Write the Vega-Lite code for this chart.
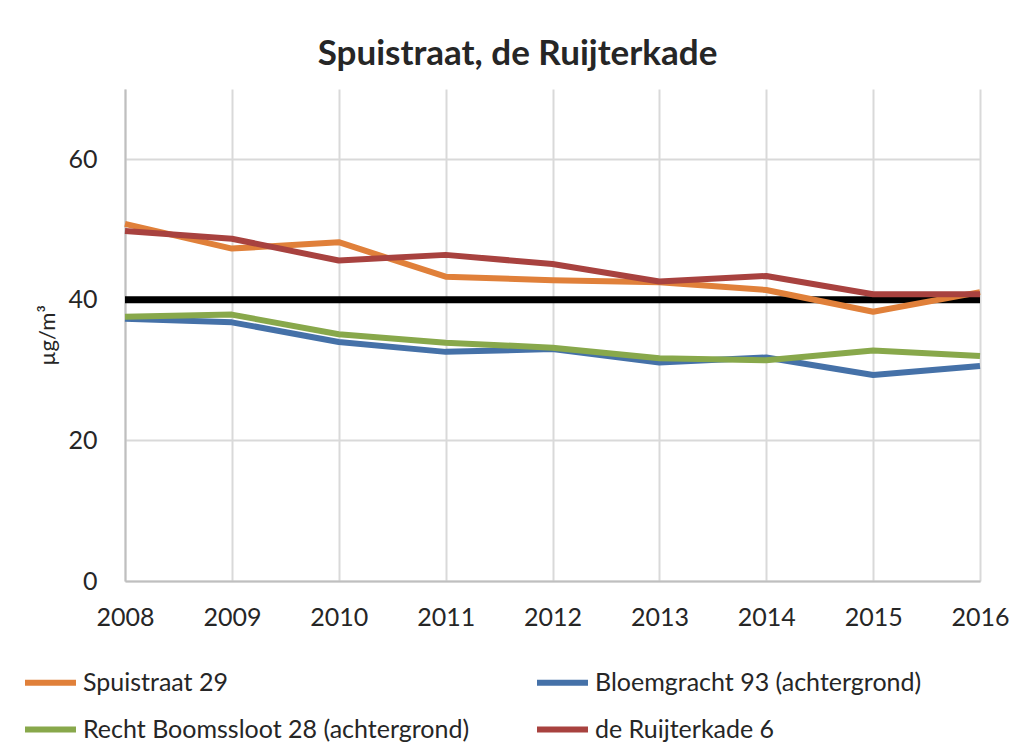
{
  "$schema": "https://vega.github.io/schema/vega-lite/v6.json",
  "autosize": {"type": "none"},
  "width": 855,
  "height": 492,
  "padding": {"left": 125, "top": 89, "right": 39, "bottom": 173},
  "background": "white",
  "title": {
    "text": "Spuistraat, de Ruijterkade",
    "font": "Lato",
    "fontSize": 35,
    "fontWeight": "bold",
    "color": "#262626",
    "anchor": "middle",
    "dx": -35,
    "offset": 17
  },
  "config": {
    "view": {"stroke": null},
    "font": "Lato"
  },
  "datasets": {
    "series": [
      {"year": 2008, "station": "Spuistraat 29", "value": 50.8},
      {"year": 2009, "station": "Spuistraat 29", "value": 47.3},
      {"year": 2010, "station": "Spuistraat 29", "value": 48.2},
      {"year": 2011, "station": "Spuistraat 29", "value": 43.3},
      {"year": 2012, "station": "Spuistraat 29", "value": 42.8},
      {"year": 2013, "station": "Spuistraat 29", "value": 42.5},
      {"year": 2014, "station": "Spuistraat 29", "value": 41.4},
      {"year": 2015, "station": "Spuistraat 29", "value": 38.3},
      {"year": 2016, "station": "Spuistraat 29", "value": 41.1},
      {"year": 2008, "station": "Bloemgracht 93 (achtergrond)", "value": 37.3},
      {"year": 2009, "station": "Bloemgracht 93 (achtergrond)", "value": 36.8},
      {"year": 2010, "station": "Bloemgracht 93 (achtergrond)", "value": 34.0},
      {"year": 2011, "station": "Bloemgracht 93 (achtergrond)", "value": 32.6},
      {"year": 2012, "station": "Bloemgracht 93 (achtergrond)", "value": 33.0},
      {"year": 2013, "station": "Bloemgracht 93 (achtergrond)", "value": 31.1},
      {"year": 2014, "station": "Bloemgracht 93 (achtergrond)", "value": 31.8},
      {"year": 2015, "station": "Bloemgracht 93 (achtergrond)", "value": 29.3},
      {"year": 2016, "station": "Bloemgracht 93 (achtergrond)", "value": 30.6},
      {"year": 2008, "station": "Recht Boomssloot 28 (achtergrond)", "value": 37.6},
      {"year": 2009, "station": "Recht Boomssloot 28 (achtergrond)", "value": 37.9},
      {"year": 2010, "station": "Recht Boomssloot 28 (achtergrond)", "value": 35.1},
      {"year": 2011, "station": "Recht Boomssloot 28 (achtergrond)", "value": 33.9},
      {"year": 2012, "station": "Recht Boomssloot 28 (achtergrond)", "value": 33.2},
      {"year": 2013, "station": "Recht Boomssloot 28 (achtergrond)", "value": 31.7},
      {"year": 2014, "station": "Recht Boomssloot 28 (achtergrond)", "value": 31.4},
      {"year": 2015, "station": "Recht Boomssloot 28 (achtergrond)", "value": 32.8},
      {"year": 2016, "station": "Recht Boomssloot 28 (achtergrond)", "value": 32.0},
      {"year": 2008, "station": "de Ruijterkade 6", "value": 49.8},
      {"year": 2009, "station": "de Ruijterkade 6", "value": 48.7},
      {"year": 2010, "station": "de Ruijterkade 6", "value": 45.6},
      {"year": 2011, "station": "de Ruijterkade 6", "value": 46.4},
      {"year": 2012, "station": "de Ruijterkade 6", "value": 45.1},
      {"year": 2013, "station": "de Ruijterkade 6", "value": 42.6},
      {"year": 2014, "station": "de Ruijterkade 6", "value": 43.4},
      {"year": 2015, "station": "de Ruijterkade 6", "value": 40.8},
      {"year": 2016, "station": "de Ruijterkade 6", "value": 40.8}
    ],
    "norm": [
      {"year": 2008, "value": 40},
      {"year": 2016, "value": 40}
    ]
  },
  "layer": [
    {
      "data": {"name": "norm"},
      "mark": {"type": "line", "color": "black", "strokeWidth": 7, "strokeCap": "butt"},
      "encoding": {
        "x": {
          "field": "year", "type": "quantitative",
          "scale": {"domain": [2008, 2016], "nice": false, "zero": false},
          "axis": {
            "title": null,
            "values": [2008, 2009, 2010, 2011, 2012, 2013, 2014, 2015, 2016],
            "format": "d",
            "grid": true,
            "gridColor": "#D9D9D9",
            "gridWidth": 2,
            "domainColor": "#BFBFBF",
            "domainWidth": 2,
            "ticks": false,
            "labelFont": "Lato",
            "labelFontSize": 25,
            "labelColor": "#262626",
            "labelPadding": 24,
            "labelFlush": false
          }
        },
        "y": {
          "field": "value", "type": "quantitative",
          "scale": {"domain": [0, 70], "nice": false},
          "axis": {
            "title": "µg/m³",
            "titleFont": "Lato",
            "titleFontSize": 22,
            "titleFontWeight": "normal",
            "titleColor": "#262626",
            "titlePadding": 8,
            "values": [0, 20, 40, 60],
            "grid": true,
            "gridColor": "#D9D9D9",
            "gridWidth": 2,
            "domainColor": "#BFBFBF",
            "domainWidth": 2,
            "ticks": false,
            "labelFont": "Lato",
            "labelFontSize": 25,
            "labelColor": "#262626",
            "labelPadding": 28
          }
        }
      }
    },
    {
      "data": {"name": "series"},
      "mark": {"type": "line", "strokeWidth": 6, "strokeJoin": "round"},
      "encoding": {
        "x": {"field": "year", "type": "quantitative"},
        "y": {"field": "value", "type": "quantitative"},
        "color": {
          "field": "station", "type": "nominal",
          "scale": {
            "domain": ["Spuistraat 29", "Bloemgracht 93 (achtergrond)", "Recht Boomssloot 28 (achtergrond)", "de Ruijterkade 6"],
            "range": ["#E0803A", "#4571A8", "#88A84B", "#A8423F"]
          },
          "legend": {
            "title": null,
            "orient": "none",
            "legendX": -103,
            "legendY": 565,
            "direction": "horizontal",
            "columns": 2,
            "columnPadding": 55,
            "rowPadding": 5,
            "symbolType": "stroke",
            "symbolSize": 2600,
            "symbolStrokeWidth": 6,
            "labelFont": "Lato",
            "labelFontSize": 25,
            "labelColor": "#262626",
            "labelLimit": 600,
            "labelOffset": 4
          }
        }
      }
    }
  ]
}
